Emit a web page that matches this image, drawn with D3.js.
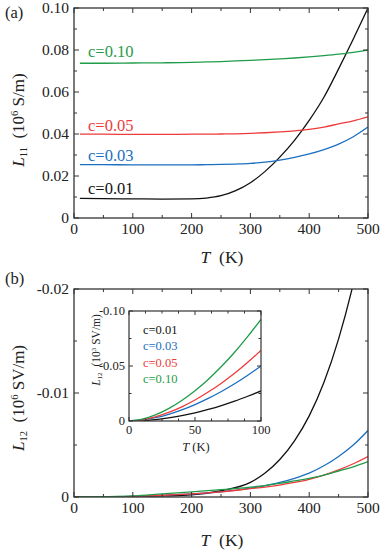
<!DOCTYPE html>
<html><head><meta charset="utf-8">
<script src="https://cdnjs.cloudflare.com/ajax/libs/d3/7.8.5/d3.min.js"></script>
<style>
html,body{margin:0;padding:0;background:#fff;}
svg{display:block;}
</style></head><body>
<script>
// ---------- data ----------
const series = ["c=0.01","c=0.03","c=0.05","c=0.10"];
const colors = ["#111111","#1a6fc0","#ee3a3a","#1f9c4a"];

// Panel (a): L11 (10^6 S/m)
const tA = [10,50,100,150,200,225,250,275,300,325,350,375,400,425,450,475,500];
const L11_c001 = [0.0093,0.0092,0.0091,0.0090,0.0091,0.0095,0.0106,0.0130,0.0168,0.0222,0.0290,0.0370,0.0465,0.0575,0.0710,0.0852,0.1000];
const L11_c003 = [0.0254,0.0254,0.0253,0.0253,0.0253,0.0254,0.0255,0.0257,0.0260,0.0266,0.0276,0.0289,0.0305,0.0326,0.0352,0.0387,0.0433];
const L11_c005 = [0.0399,0.0399,0.0398,0.0398,0.0399,0.0399,0.0400,0.0401,0.0403,0.0406,0.0410,0.0415,0.0422,0.0433,0.0448,0.0463,0.0482];
const L11_c010 = [0.0737,0.0737,0.0738,0.0739,0.0741,0.0743,0.0745,0.0748,0.0751,0.0754,0.0758,0.0762,0.0767,0.0773,0.0780,0.0789,0.0799];

// Panel (b): L12 (10^6 SV/m)
const tB = [0,50,100,150,200,250,300,325,350,375,400,425,450,475,500];
const L12_c001 = [0,-0.00001,-0.00003,-0.0001,-0.0002,-0.0006,-0.0014,-0.0023,-0.0036,-0.0054,-0.0078,-0.0110,-0.0152,-0.0205,-0.0270];
const L12_c003 = [0,-0.00002,-0.00005,-0.00015,-0.0003,-0.0005,-0.00085,-0.0011,-0.0014,-0.0018,-0.0023,-0.0030,-0.0039,-0.0050,-0.0064];
const L12_c005 = [0,-0.00002,-0.00006,-0.00017,-0.0003,-0.0005,-0.0008,-0.00095,-0.00115,-0.0014,-0.0017,-0.0021,-0.0026,-0.0032,-0.0039];
const L12_c010 = [0,-0.00003,-0.0001,-0.0003,-0.0005,-0.0007,-0.00095,-0.0011,-0.0013,-0.00155,-0.0018,-0.0021,-0.0025,-0.0029,-0.0034];

// Inset: L12 (10^3 SV/m), T 0-100 K
const tI = [0,10,20,30,40,50,60,70,80,90,100];
const I_c001 = [0,-0.0003,-0.0012,-0.0028,-0.0049,-0.0074,-0.0105,-0.0140,-0.0180,-0.0225,-0.0273];
const I_c003 = [0,-0.0009,-0.0030,-0.0061,-0.0101,-0.0149,-0.0205,-0.0268,-0.0338,-0.0416,-0.0500];
const I_c005 = [0,-0.0011,-0.0038,-0.0078,-0.0129,-0.0191,-0.0263,-0.0344,-0.0434,-0.0534,-0.0642];
const I_c010 = [0,-0.0016,-0.0055,-0.0112,-0.0186,-0.0275,-0.0378,-0.0495,-0.0625,-0.0769,-0.0924];

const xTicks = [0,100,200,300,400,500];
const yTicksA = [0,0.02,0.04,0.06,0.08,0.10];
const yTicksB = [0,-0.01,-0.02];
const xTicksI = [0,50,100];
const yTicksI = [0,-0.05,-0.10];

// ---------- drawing ----------
const FONT = "Liberation Serif";
const W=382,H=550;
const svg=d3.select("body").append("svg").attr("width",W).attr("height",H)
  .attr("font-family",FONT);
const frameColor="#333";
const textColor="#222";

function fmt2(d){ return d===0?"0":d3.format(".2f")(d).replace("\u2212","-"); }
function txt(g){ return g.append("text").attr("font-family",FONT).attr("fill",textColor); }

function drawFrame(g,x,y,opt){
  const [x0,x1]=x.range(), [y0,y1]=y.range();
  const tl = opt.tl, ml = opt.ml;
  const xs = d3.range(opt.xMinor[0],opt.xMinor[1]+1e-9,opt.xMinor[2]);
  xs.forEach(v=>{
    const major = opt.xMajor.some(m=>Math.abs(m-v)<1e-9);
    const L = major?tl:ml;
    g.append("line").attr("x1",x(v)).attr("x2",x(v)).attr("y1",y0).attr("y2",y0-L).attr("stroke",frameColor).attr("stroke-width",1);
    g.append("line").attr("x1",x(v)).attr("x2",x(v)).attr("y1",y1).attr("y2",y1+L).attr("stroke",frameColor).attr("stroke-width",1);
  });
  const ys = d3.range(opt.yMinor[0],opt.yMinor[1]+(opt.yMinor[2]>0?1e-9:-1e-9),opt.yMinor[2]);
  ys.forEach(v=>{
    const major = opt.yMajor.some(m=>Math.abs(m-v)<1e-9);
    const L = major?tl:ml;
    g.append("line").attr("x1",x0).attr("x2",x0+L).attr("y1",y(v)).attr("y2",y(v)).attr("stroke",frameColor).attr("stroke-width",1);
    g.append("line").attr("x1",x1).attr("x2",x1-L).attr("y1",y(v)).attr("y2",y(v)).attr("stroke",frameColor).attr("stroke-width",1);
  });
  g.append("rect").attr("x",x0).attr("y",y1).attr("width",x1-x0).attr("height",y0-y1)
    .attr("fill","none").attr("stroke",frameColor).attr("stroke-width",opt.fw);
  opt.xMajor.forEach(v=>{
    txt(g).attr("x",x(v)).attr("y",y0+opt.xlOff).attr("text-anchor","middle")
      .attr("font-size",opt.fs).text(v);
  });
  opt.yMajor.forEach(v=>{
    txt(g).attr("x",x0-opt.ylOff).attr("y",y(v)+opt.fs*0.33).attr("text-anchor","end")
      .attr("font-size",opt.fs).text(opt.yfmt(v));
  });
}

function drawLines(g,x,y,T,arrs,clipId,sw){
  const line=d3.line().x((d,i)=>x(T[i])).y(d=>y(d)).curve(d3.curveMonotoneX);
  arrs.forEach((a,k)=>{
    const p=g.append("path").datum(a).attr("d",line).attr("fill","none")
      .attr("stroke",colors[k]).attr("stroke-width",sw);
    if(clipId) p.attr("clip-path",`url(#${clipId})`);
  });
}

function yLabel(g,cx,cy,fs,sub,sup,unit){
  const t=txt(g).attr("transform",`translate(${cx},${cy}) rotate(-90)`)
    .attr("text-anchor","middle").attr("font-size",fs);
  t.append("tspan").attr("font-style","italic").text("L");
  t.append("tspan").attr("font-size",fs*0.62).attr("dy",fs*0.18).text(sub);
  t.append("tspan").attr("dy",-fs*0.18).text("\u2002(10");
  t.append("tspan").attr("font-size",fs*0.62).attr("dy",-fs*0.38).text(sup);
  t.append("tspan").attr("dy",fs*0.38).text(" "+unit+")");
}
function xLabel(g,cx,cy,fs,gap){
  const t=txt(g).attr("x",cx).attr("y",cy).attr("text-anchor","middle").attr("font-size",fs);
  t.append("tspan").attr("font-style","italic").text("T");
  t.append("tspan").text(gap+"(K)");
}

const defs=svg.append("defs");

// ----- Panel (a) -----
const gA=svg.append("g");
const xA=d3.scaleLinear().domain([0,500]).range([74,368]);
const yA=d3.scaleLinear().domain([0,0.1]).range([218,8]);
defs.append("clipPath").attr("id","clipA").append("rect").attr("x",74).attr("y",8).attr("width",294).attr("height",210);
drawLines(gA,xA,yA,tA,[L11_c001,L11_c003,L11_c005,L11_c010],"clipA",1.3);
drawFrame(gA,xA,yA,{tl:5,ml:3,fw:1.3,xMinor:[0,500,50],xMajor:xTicks,yMinor:[0,0.1,0.01],yMajor:yTicksA,
  fs:15.5,xlOff:16,ylOff:5,yfmt:fmt2});
const labA=[194,161,131,57];
labA.forEach((yy,i)=>txt(gA).attr("x",88).attr("y",yy).attr("font-size",16.5).attr("fill",colors[i]).text(series[i]));
txt(gA).attr("x",5).attr("y",18).attr("font-size",16.5).text("(a)");
yLabel(gA,24,120,17,"11","6","S/m");
xLabel(gA,222,263,17.5,"\u2002");

// ----- Panel (b) -----
const gB=svg.append("g");
const xB=d3.scaleLinear().domain([0,500]).range([74,368]);
const yB=d3.scaleLinear().domain([0,-0.02]).range([497,289]);
defs.append("clipPath").attr("id","clipB").append("rect").attr("x",74).attr("y",289).attr("width",294).attr("height",208);
drawLines(gB,xB,yB,tB,[L12_c001,L12_c003,L12_c005,L12_c010],"clipB",1.3);
drawFrame(gB,xB,yB,{tl:5,ml:3,fw:1.3,xMinor:[0,500,50],xMajor:xTicks,yMinor:[0,-0.02,-0.005],yMajor:yTicksB,
  fs:15.5,xlOff:16,ylOff:5,yfmt:fmt2});
txt(gB).attr("x",5).attr("y",284).attr("font-size",16.5).text("(b)");
yLabel(gB,24,398,17,"12","6","SV/m");
xLabel(gB,222,546,17.5,"\u2002");

// ----- Inset -----
const gI=svg.append("g");
const xI=d3.scaleLinear().domain([0,100]).range([129,261]);
const yI=d3.scaleLinear().domain([0,-0.10]).range([421,311]);
gI.append("rect").attr("x",129).attr("y",311).attr("width",132).attr("height",110).attr("fill","#fff");
defs.append("clipPath").attr("id","clipI").append("rect").attr("x",129).attr("y",311).attr("width",132).attr("height",110);
drawLines(gI,xI,yI,tI,[I_c001,I_c003,I_c005,I_c010],"clipI",1.3);
drawFrame(gI,xI,yI,{tl:4,ml:2.5,fw:1.2,xMinor:[0,100,12.5],xMajor:xTicksI,yMinor:[0,-0.10,-0.025],yMajor:yTicksI,
  fs:12.5,xlOff:13,ylOff:4,yfmt:fmt2});
const labI=[333.5,350,367,383];
labI.forEach((yy,i)=>txt(gI).attr("x",143).attr("y",yy).attr("font-size",12.5).attr("fill",colors[i]).text(series[i]));
yLabel(gI,100,350,11.5,"12","3","SV/m");
xLabel(gI,196,451,12.5," ");
</script>
</body></html>
